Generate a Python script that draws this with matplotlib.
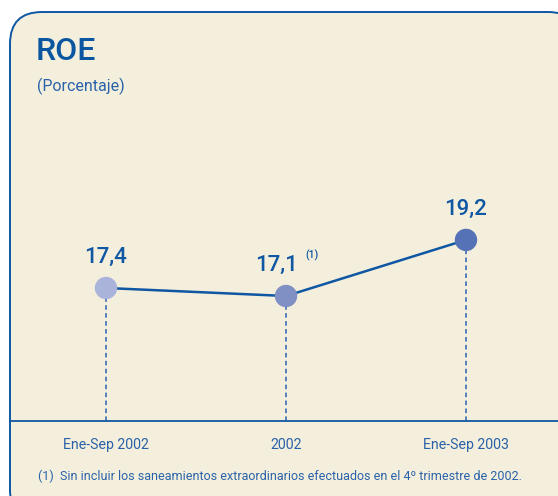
import matplotlib.pyplot as plt
from matplotlib.patches import FancyBboxPatch

# data
categories = ['Ene-Sep 2002', '2002', 'Ene-Sep 2003']
roe = [17.4, 17.1, 19.2]
labels = ['17,4', '17,1', '19,2']
point_colors = ['#AAB4DA', '#8190C4', '#5572B6']

blue = '#0F56A3'
txt_blue = '#2A62AA'
cream = '#F3EFDC'

fig = plt.figure(figsize=(5.58, 4.96), dpi=100)
fig.patch.set_facecolor('white')

# rounded panel (figure pixel coords)
bg = fig.add_axes([0, 0, 1, 1])
bg.set_xlim(0, 558)
bg.set_ylim(496, 0)
bg.axis('off')
box = FancyBboxPatch((10, 12), 570, 510, boxstyle='round,pad=0,rounding_size=32',
                     facecolor=cream, edgecolor=blue, linewidth=1.4)
bg.add_patch(box)
bg.plot([10, 558], [421, 421], color=blue, lw=1.3)

font = dict(family=['Roboto', 'DejaVu Sans'])

bg.text(36, 51, 'ROE', fontsize=23, fontweight='medium', color='#0A56A0', va='center', ha='left', **font)
bg.text(37, 86, '(Porcentaje)', fontsize=11.5, color=txt_blue, va='center', ha='left', **font)

# data axes
ax = fig.add_axes([0, 0, 1, 1])
ax.patch.set_alpha(0)
ax.axis('off')
ax.set_xlim(-106 / 180, 452 / 180)
ax.set_ylim(17.1 - 200 / 26.7, 17.1 + 296 / 26.7)
base = 17.1 - 125 / 26.7

x = list(range(len(categories)))
ax.vlines(x, base, roe, colors='#2A62B0', linestyles=(0, (3, 2.2)), lw=1.1)
ax.plot(x, roe, color=blue, lw=1.8, zorder=3)
ax.scatter(x, roe, s=260, c=point_colors, zorder=4, edgecolors='none')

offsets = [(0, 22), (-7, 22), (0, 22)]
for xi, v, lab, (dx, dy) in zip(x, roe, labels, offsets):
    ax.annotate(lab, (xi, v), xytext=(dx, dy), textcoords='offset points',
                ha='center', va='center', fontsize=16, fontweight='medium', color='#0F56A3', **font)
ax.annotate('(1)', (x[1], roe[1]), xytext=(19, 29), textcoords='offset points',
            ha='center', va='center', fontsize=7.5, fontweight='medium', color='#0F56A3', **font)

for xi, c in zip(x, categories):
    ax.annotate(c, (xi, base), xytext=(0, -17), textcoords='offset points',
                ha='center', va='center', fontsize=10.2, color=txt_blue, **font)

bg.text(38, 476, '(1)  Sin incluir los saneamientos extraordinarios efectuados en el 4º trimestre de 2002.',
        fontsize=9.0, color=txt_blue, va='center', ha='left', **font)

fig.savefig('out.png', dpi=100)
